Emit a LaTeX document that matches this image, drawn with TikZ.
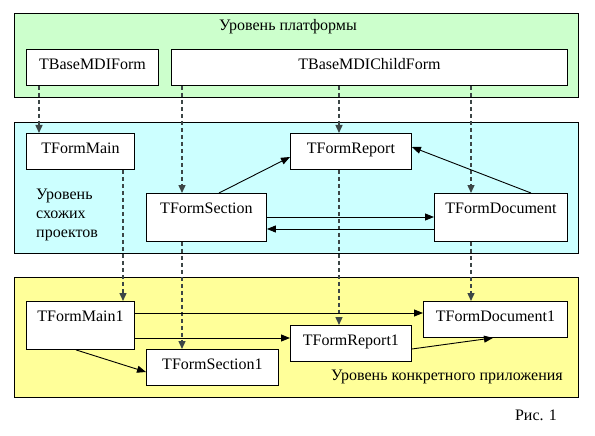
\documentclass[tikz,border=0pt]{standalone}
\usepackage{fontspec}
\setmainfont{Liberation Serif}
\usetikzlibrary{arrows.meta}
\definecolor{pgreen}{HTML}{CCFFCC}
\definecolor{pcyan}{HTML}{CCFFFF}
\definecolor{pyellow}{HTML}{FFFF99}
\definecolor{dashcol}{HTML}{3C4646}
\begin{document}
\begin{tikzpicture}[x=1pt,y=-1pt,
  every node/.style={font=\fontsize{16}{19}\selectfont},
  panel/.style={draw=black, line width=0.9pt, inner sep=0pt, anchor=north west},
  box/.style={draw=black, fill=white, line width=0.9pt, inner sep=0pt, anchor=north west, text height=20pt},
  dasharrow/.style={draw=dashcol, line width=1.4pt, dash pattern=on 4pt off 3pt, -{Triangle[length=8pt,width=7pt]}},
  solidarrow/.style={draw=black, line width=0.9pt, -{Triangle[length=9pt,width=7pt]}},
  plainlabel/.style={inner sep=0pt}
]
\useasboundingbox (0,0) rectangle (595,436);
% panels
\node[panel, fill=pgreen, minimum width=564pt, minimum height=84pt] (pgr) at (14,13) {};
\node[panel, fill=pcyan, minimum width=564pt, minimum height=131pt] (pcy) at (14,122) {};
\node[panel, fill=pyellow, minimum width=564pt, minimum height=120pt] (pye) at (14,277) {};
% panel labels
\node[plainlabel] (lgr) at (288,27) {Уровень платформы};
\node[plainlabel, anchor=north west, align=left] (lcy) at (36,189) {Уровень\\схожих\\проектов};
\node[plainlabel] (lye) at (447,377) {Уровень конкретного приложения};
\node[plainlabel] (fig) at (536,415) {Рис. 1};
% boxes
\node[box, minimum width=132pt, text depth=16pt] (bmdi) at (26,49) {TBaseMDIForm};
\node[box, minimum width=396pt, text depth=16pt] (bmdic) at (171,49) {TBaseMDIChildForm};
\node[box, minimum width=108pt, text depth=16pt] (fmain) at (26,133) {TFormMain};
\node[box, minimum width=120pt, text depth=28pt] (fsec) at (146,193) {TFormSection};
\node[box, minimum width=121pt, text depth=16pt] (frep) at (290,133) {TFormReport};
\node[box, minimum width=133pt, text depth=28pt] (fdoc) at (434,193) {TFormDocument};
\node[box, minimum width=108pt, text depth=28pt] (fmain1) at (26,301) {TFormMain1};
\node[box, minimum width=132pt, text depth=16pt] (fsec1) at (146,349) {TFormSection1};
\node[box, minimum width=121pt, text depth=16pt] (frep1) at (290,325) {TFormReport1};
\node[box, minimum width=144pt, text depth=16pt] (fdoc1) at (423,301) {TFormDocument1};
% dashed inheritance arrows
\draw[dasharrow] (bmdi.south -| 39,0) -- (fmain.north -| 39,0);
\draw[dasharrow] (bmdic.south -| 182,0) -- (fsec.north -| 182,0);
\draw[dasharrow] (bmdic.south -| 339,0) -- (frep.north -| 339,0);
\draw[dasharrow] (bmdic.south -| 471,0) -- (fdoc.north -| 471,0);
\draw[dasharrow] (fmain.south -| 123,0) -- (fmain1.north -| 123,0);
\draw[dasharrow] (fsec.south -| 182,0) -- (fsec1.north -| 182,0);
\draw[dasharrow] (frep.south -| 339,0) -- (frep1.north -| 339,0);
\draw[dasharrow] (fdoc.south -| 471,0) -- (fdoc1.north -| 471,0);
% solid arrows
\draw[solidarrow] (fsec.north -| 219,0) -- (frep.west |- 0,157);
\draw[solidarrow] (fdoc.north -| 531,0) -- (frep.east |- 0,147);
\draw[solidarrow] (fsec.east |- 0,217) -- (fdoc.west |- 0,217);
\draw[solidarrow] (fdoc.west |- 0,229) -- (fsec.east |- 0,229);
\draw[solidarrow] (fmain1.east |- 0,313) -- (fdoc1.west |- 0,313);
\draw[solidarrow] (fmain1.east |- 0,338) -- (frep1.west |- 0,338);
\draw[solidarrow] (fmain1.south -| 76,0) -- (fsec1.west |- 0,372);
\draw[solidarrow] (frep1.east |- 0,349) -- (fdoc1.south -| 493,0);
\end{tikzpicture}
\end{document}
